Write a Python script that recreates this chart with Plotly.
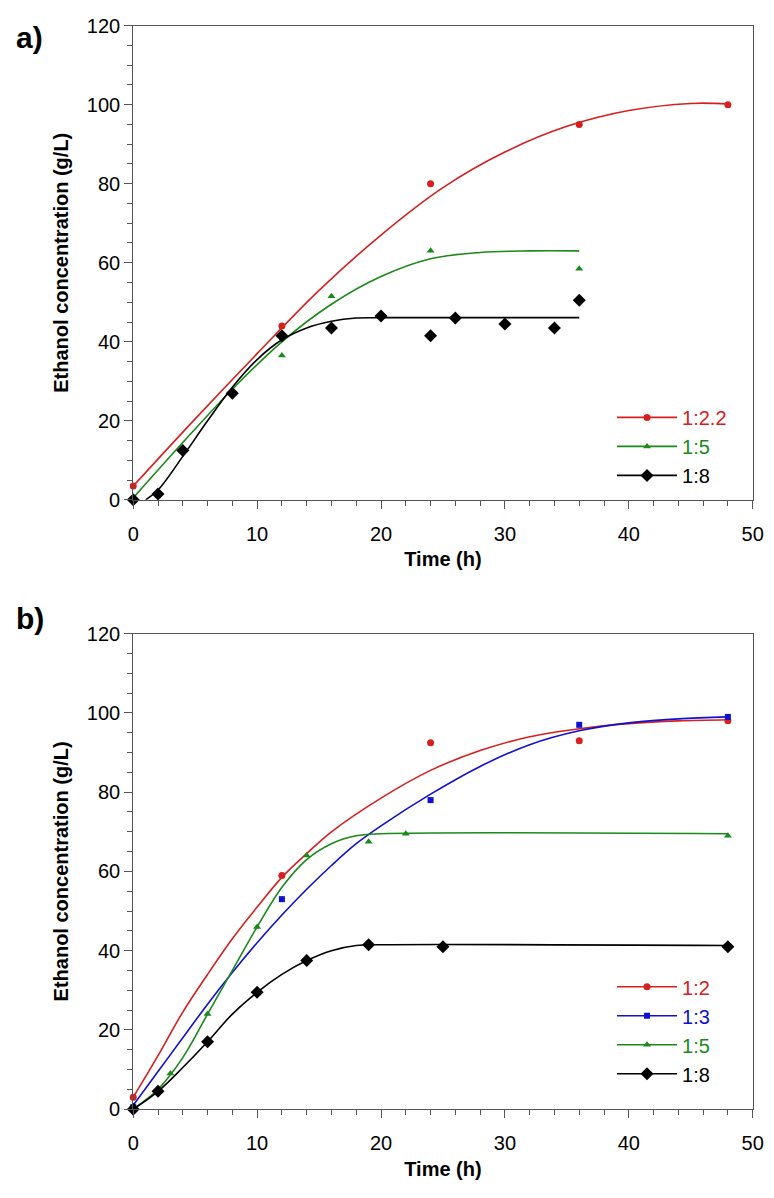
import plotly.graph_objects as go

RED, GREEN, BLACK, BLUE = "#d62020", "#1a8a1a", "#000000", "#1010d0"

# ---- panel a: measured points ----
a_t_122 = [0, 12, 24, 36, 48]
a_y_122 = [3.5, 44, 80, 95, 100]
a_t_15 = [0, 12, 16, 24, 36]
a_y_15 = [0.5, 36.5, 51.5, 63, 58.5]
a_t_18 = [0, 2, 4, 8, 12, 16, 20, 24, 26, 30, 34, 36]
a_y_18 = [0, 1.5, 12.5, 27, 41.5, 43.5, 46.5, 41.5, 46, 44.5, 43.5, 50.5]
# ---- panel a: fitted curves ----
a_ct_122 = [0, 5, 10, 15, 20, 25, 30, 35, 40, 45, 48]
a_cy_122 = [3.5, 20.5, 37, 53, 67, 79, 88, 94.5, 98.5, 100.3, 100.2]
a_ct_15 = [0, 4, 8, 12, 16, 20, 24, 28, 32, 36]
a_cy_15 = [0.5, 14.5, 28, 40, 49.5, 56.5, 61, 62.6, 63, 63]
a_ct_18 = [1, 2, 4, 6, 8, 10, 12, 14, 16, 18, 20, 36]
a_cy_18 = [0, 2.5, 11, 20, 28.5, 35.5, 40.5, 43.5, 45.2, 46, 46.1, 46.1]

# ---- panel b: measured points ----
b_t_12 = [0, 12, 24, 36, 48]
b_y_12 = [3, 59, 92.5, 93, 98]
b_t_13 = [0, 12, 24, 36, 48]
b_y_13 = [0.5, 53, 78, 97, 99]
b_t_15 = [0, 3, 6, 10, 14, 19, 22, 48]
b_y_15 = [0, 9, 24, 46, 64, 67.5, 69.5, 69]
b_t_18 = [0, 2, 6, 10, 14, 19, 25, 48]
b_y_18 = [0, 4.5, 17, 29.5, 37.5, 41.5, 41, 41]
# ---- panel b: fitted curves ----
b_ct_12 = [0, 2, 4, 6, 8, 10, 12, 14, 16, 20, 24, 28, 32, 36, 40, 44, 48]
b_cy_12 = [3, 13.5, 24.5, 34, 43, 51, 58.5, 64.5, 70, 78.5, 85.5, 90.5, 94, 96, 97.3, 98, 98.3]
b_ct_13 = [0, 2, 4, 6, 8, 10, 12, 14, 16, 18, 20, 24, 28, 32, 36, 40, 44, 48]
b_cy_13 = [1, 9.5, 18, 26.5, 34.5, 42, 49, 55.5, 61.5, 67, 71.5, 79.5, 86.5, 92, 95.5, 97.5, 98.5, 99]
b_ct_15 = [0, 2, 4, 6, 8, 10, 12, 14, 16, 18, 20, 48]
b_cy_15 = [0, 5, 13, 24, 35, 46, 56, 63, 67, 69, 69.5, 69.5]
b_ct_18 = [0, 2, 4, 6, 8, 10, 12, 14, 16, 18, 20, 48]
b_cy_18 = [0, 4.5, 10.5, 17, 24, 29.5, 34, 37.5, 40, 41.3, 41.5, 41.3]

fig = go.Figure()


def add_series(ct, cy, t, y, name, color, symbol, size, xa, ya, leg):
    fig.add_trace(go.Scatter(x=ct, y=cy, mode="lines", line=dict(color=color, width=1.6, shape="spline"),
                             xaxis=xa, yaxis=ya, showlegend=False, hoverinfo="skip"))
    fig.add_trace(go.Scatter(x=t, y=y, mode="markers", marker=dict(color=color, symbol=symbol, size=size),
                             xaxis=xa, yaxis=ya, showlegend=False, cliponaxis=False))
    fig.add_trace(go.Scatter(x=[None], y=[None], mode="lines+markers",
                             name=f"<span style='color:{color}'>{name}</span>",
                             line=dict(color=color, width=1.6), marker=dict(color=color, symbol=symbol, size=size),
                             xaxis=xa, yaxis=ya, legend=leg))


add_series(a_ct_122, a_cy_122, a_t_122, a_y_122, "1:2.2", RED, "circle", 7, "x", "y", "legend")
add_series(a_ct_15, a_cy_15, a_t_15, a_y_15, "1:5", GREEN, "triangle-up", 7, "x", "y", "legend")
add_series(a_ct_18, a_cy_18, a_t_18, a_y_18, "1:8", BLACK, "diamond", 10, "x", "y", "legend")

add_series(b_ct_12, b_cy_12, b_t_12, b_y_12, "1:2", RED, "circle", 7, "x2", "y2", "legend2")
add_series(b_ct_13, b_cy_13, b_t_13, b_y_13, "1:3", BLUE, "square", 6, "x2", "y2", "legend2")
add_series(b_ct_15, b_cy_15, b_t_15, b_y_15, "1:5", GREEN, "triangle-up", 7, "x2", "y2", "legend2")
add_series(b_ct_18, b_cy_18, b_t_18, b_y_18, "1:8", BLACK, "diamond", 10, "x2", "y2", "legend2")

FAM = "Liberation Sans, Arial"
font = dict(family=FAM, size=20, color="black")
ax = dict(range=[0, 50], dtick=10, showline=True, linecolor="#555", mirror=True, ticks="outside",
          ticklen=8, tickcolor="#555", showgrid=False, zeroline=False, tickfont=font, ticklabelstandoff=8,
          minor=dict(dtick=2, ticks="outside", ticklen=5, tickcolor="#555"),
          title=dict(text="<b>Time (h)</b>", font=dict(family=FAM, size=20), standoff=8))
ay = dict(range=[0, 120], dtick=20, showline=True, linecolor="#555", mirror=True, ticks="outside",
          ticklen=8, tickcolor="#555", showgrid=False, zeroline=False, tickfont=font,
          minor=dict(dtick=5, ticks="outside", ticklen=5, tickcolor="#555"),
          title=dict(text="<b>Ethanol concentration (g/L)</b>", font=dict(family=FAM, size=20), standoff=12))

xd = [0.1575, 0.9758]
leg = dict(xanchor="left", yanchor="top", bgcolor="rgba(0,0,0,0)",
           font=dict(family=FAM, size=20), tracegroupgap=0, itemwidth=60)
fig.update_layout(
    width=774, height=1198, margin=dict(l=0, r=0, t=0, b=0),
    plot_bgcolor="white", paper_bgcolor="white", font=font,
    xaxis=dict(ax, domain=xd, anchor="y"),
    yaxis=dict(ay, domain=[0.5911, 0.9944], anchor="x"),
    xaxis2=dict(ax, domain=xd, anchor="y2"),
    yaxis2=dict(ay, domain=[0.0730, 0.4773], anchor="x2"),
    legend=dict(leg, x=0.79, y=1 - 386 / 1198),
    legend2=dict(leg, x=0.79, y=1 - 966 / 1198),
    annotations=[
        dict(text="<b>a)</b>", x=0.0, y=1.0, xref="paper", yref="paper", showarrow=False,
             xanchor="left", yanchor="top", font=dict(family=FAM, size=30)),
        dict(text="<b>b)</b>", x=0.0, y=1 - 592 / 1198, xref="paper", yref="paper", showarrow=False,
             xanchor="left", yanchor="top", font=dict(family=FAM, size=30)),
    ],
)
fig.write_html("out.html")
